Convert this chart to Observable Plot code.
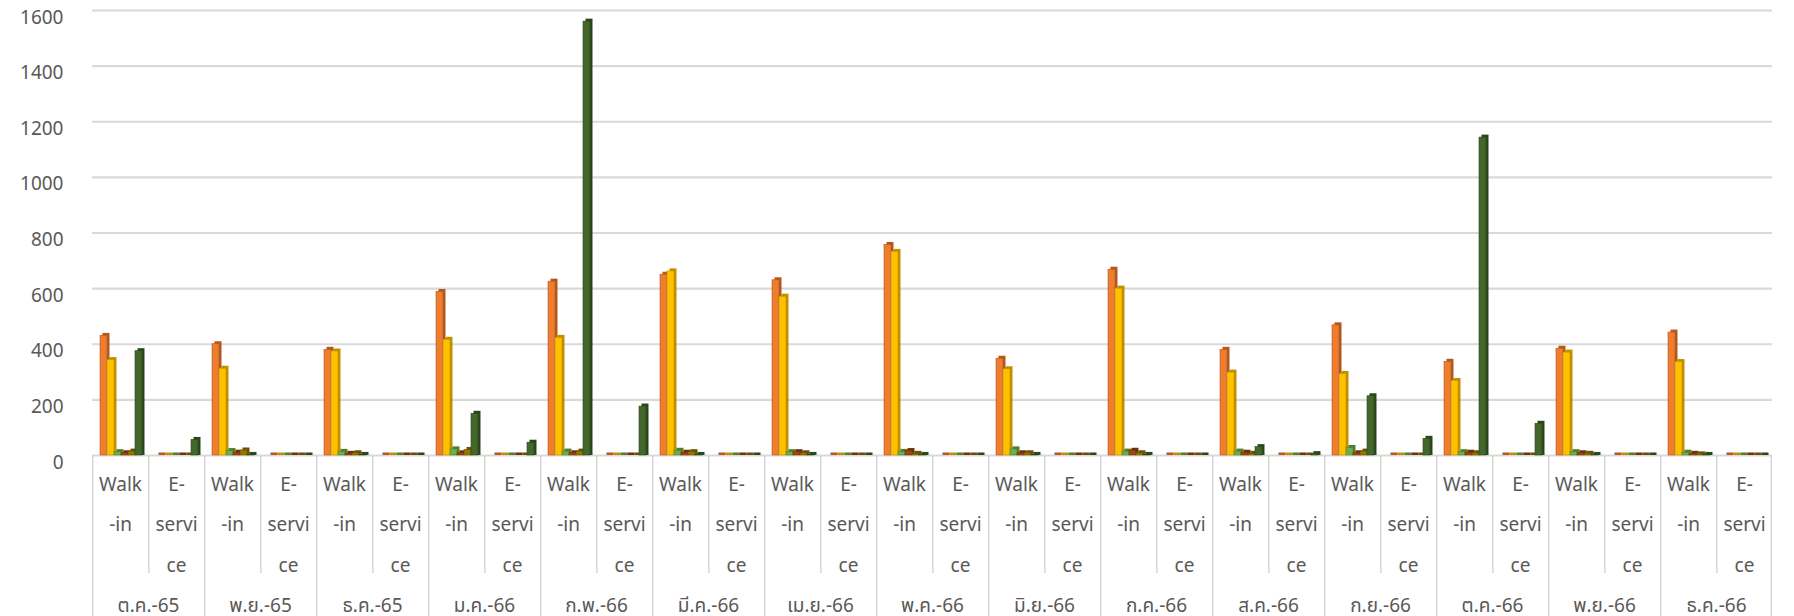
<!DOCTYPE html>
<html><head><meta charset="utf-8">
<script src="https://cdn.jsdelivr.net/npm/d3@7"></script>
<script src="https://cdn.jsdelivr.net/npm/@observablehq/plot@0.6"></script>
<style>
body{margin:0;background:#fff;}
#chart svg{font-family:"Noto Sans","Noto Sans Thai","Leelawadee UI",sans-serif;}
</style>
</head><body><div id="chart"></div>
<script>
const months = ["ต.ค.-65","พ.ย.-65","ธ.ค.-65","ม.ค.-66","ก.พ.-66","มี.ค.-66","เม.ย.-66","พ.ค.-66","มิ.ย.-66","ก.ค.-66","ส.ค.-66","ก.ย.-66","ต.ค.-66","พ.ย.-66","ธ.ค.-66"];
const channels = ["Walk-in","E-service"];
const channelLabels = ["Walk\n-in","E-\nservi\nce"];
const seriesNames = ["Series 1","Series 2","Series 3","Series 4","Series 5","Series 6"];
const seriesColors = ["#ED7D31","#FFC000","#70AD47","#9E480E","#997300","#43682B"];
const seriesSideColors = ["#B4581C","#C09000","#4F7F30","#6E3209","#6B5000","#2C461C"];
const yTicks = [0,200,400,600,800,1000,1200,1400,1600];

// Walk-in values per series (one per month)
const walkIn1 = [430,400,380,588,625,650,630,757,348,668,380,468,337,384,442];
const walkIn2 = [343,312,374,416,423,662,571,732,310,600,298,293,268,370,336];
const walkIn3 = [12,16,13,22,14,17,12,13,22,14,14,27,12,12,10];
const walkIn4 = [8,10,6,8,8,10,12,16,8,17,10,8,10,8,6];
const walkIn5 = [14,18,8,20,14,12,8,6,8,8,6,14,8,6,4];
const walkIn6 = [375,2,2,150,1560,2,2,2,2,2,30,213,1143,2,2];
// E-service values per series (one per month)
const eService1 = [0,0,0,0,0,0,0,0,0,0,0,0,0,0,0];
const eService2 = [0,0,0,0,0,0,0,0,0,0,0,0,0,0,0];
const eService3 = [0,0,0,0,0,0,0,0,0,0,0,0,0,0,0];
const eService4 = [0,0,0,0,0,0,0,0,0,0,0,0,0,0,0];
const eService5 = [0,0,0,0,0,0,0,0,0,0,0,0,0,0,0];
const eService6 = [56,0,0,46,176,0,0,0,0,0,5,60,114,0,0];

const walkIn = [walkIn1,walkIn2,walkIn3,walkIn4,walkIn5,walkIn6];
const eService = [eService1,eService2,eService3,eService4,eService5,eService6];

const W = 1794, H = 616, mL = 86, mR = 16, mT = 10, mB = 161;
const keys = [];
const cells = [];
months.forEach((m, mi) => channels.forEach((c, ci) => {
  const key = m + "|" + c;
  keys.push(key);
  cells.push({key, month: m, channel: c, ci, mi});
}));
const rows = [];
cells.forEach(cell => seriesNames.forEach((s, si) => {
  const src = cell.ci === 0 ? walkIn : eService;
  rows.push({key: cell.key, series: s, si, value: src[si][cell.mi]});
}));
const facetW = (W - mL - mR) / keys.length;
const lineW = 2;

const marks = [
  Plot.gridY(yTicks, {stroke: "#d9d9d9", strokeWidth: 2.2, strokeOpacity: 1}),
  // separators below axis: every sub-category
  Plot.rect(cells.filter(d => d.ci === 1), {fx: "key", fill: "#d9d9d9", insetTop: (H - mT - mB), insetBottom: -118, insetRight: facetW - lineW}),
  // month separators, full depth
  Plot.rect(cells.filter(d => d.ci === 0), {fx: "key", fill: "#d9d9d9", insetTop: (H - mT - mB), insetBottom: -mB, insetRight: facetW - lineW}),
  Plot.rect(cells.slice(-1), {fx: "key", fill: "#d9d9d9", insetTop: (H - mT - mB), insetBottom: -mB, insetLeft: facetW - lineW}),
];
seriesNames.forEach((s, si) => {
  const data = rows.filter(d => d.si === si);
  marks.push(Plot.barY(data, {fx: "key", x: "series", y: "value", fill: seriesSideColors[si], dx: 2.5, insetTop: -2.5}));
  marks.push(Plot.barY(data, {fx: "key", x: "series", y: "value", fill: seriesColors[si], stroke: seriesSideColors[si], strokeWidth: 0.6}));
});
marks.push(
  Plot.axisY({ticks: yTicks, tickFormat: d => String(d), tickSize: 0, tickPadding: 29, fontSize: 19, fill: "#595959", dy: 7, label: null}),
  Plot.axisFx({anchor: "bottom", tickSize: 0, tickPadding: 7, fontSize: 19, lineHeight: 2.12, fill: "#595959", label: null,
    tickFormat: k => channelLabels[channels.indexOf(k.split("|")[1])]}),
  Plot.text(cells.filter(d => d.ci === 0), {fx: "key", text: "month", frameAnchor: "bottom-right", dy: 156, fontSize: 19, fill: "#595959", textAnchor: "middle"})
);

const chart = Plot.plot({
  width: W, height: H,
  marginLeft: mL, marginRight: mR, marginTop: mT, marginBottom: mB,
  fx: {domain: keys, padding: 0, axis: null},
  x: {domain: seriesNames, padding: 0, paddingOuter: 0.86, align: 0.6, axis: null},
  y: {domain: [0, 1600], axis: null},
  style: {fontSize: "19px", color: "#595959", background: "#fff"},
  marks
});
document.getElementById("chart").appendChild(chart);
</script>
</body></html>
